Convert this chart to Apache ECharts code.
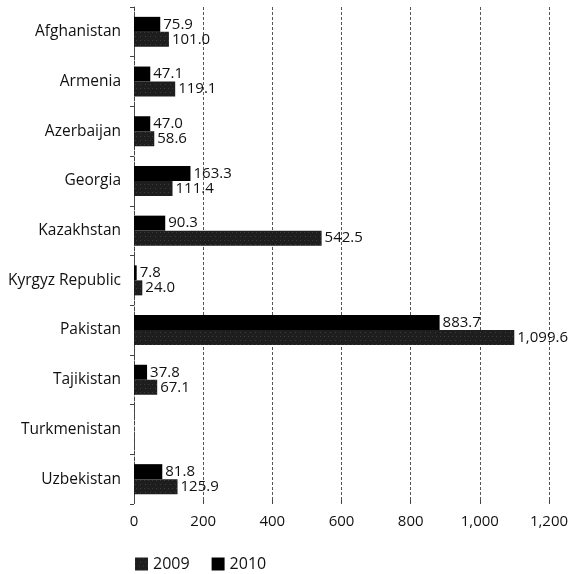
<!DOCTYPE html>
<html>
<head>
<meta charset="utf-8">
<script src="https://cdn.jsdelivr.net/npm/echarts@6/dist/echarts.min.js"></script>
<style>
  html, body { margin: 0; padding: 0; background: #fff; }
  #chart { width: 577px; height: 574px; }
</style>
</head>
<body>
<div id="chart"></div>
<script>
const countries = ['Afghanistan', 'Armenia', 'Azerbaijan', 'Georgia', 'Kazakhstan',
  'Kyrgyz Republic', 'Pakistan', 'Tajikistan', 'Turkmenistan', 'Uzbekistan'];
const values2009 = [101.0, 119.1, 58.6, 111.4, 542.5, 24.0, 1099.6, 67.1, null, 125.9];
const values2010 = [75.9, 47.1, 47.0, 163.3, 90.3, 7.8, 883.7, 37.8, null, 81.8];
const xTicks = [0, 200, 400, 600, 800, 1000, 1200];

const FONT = '"Open Sans", "Noto Sans", sans-serif';
const fmt = v => Number(v).toLocaleString('en-US', { minimumFractionDigits: 1, maximumFractionDigits: 1 });

const chart = echarts.init(document.getElementById('chart'), null, { renderer: 'canvas' });

const valueLabel = {
  show: true,
  position: 'right',
  distance: 3,
  color: '#111',
  fontFamily: FONT,
  fontSize: 15,
  formatter: p => fmt(p.value)
};

chart.setOption({
  animation: false,
  backgroundColor: '#fff',
  textStyle: { fontFamily: FONT },
  grid: { left: 134, right: 28, top: 7, bottom: 70, containLabel: false },
  legend: {
    data: ['2009', '2010'],
    left: 130,
    top: 551,
    itemWidth: 13,
    itemHeight: 13,
    itemGap: 22,
    icon: 'rect',
    textStyle: { fontFamily: FONT, fontSize: 16, color: '#111' }
  },
  xAxis: {
    type: 'value',
    min: xTicks[0],
    max: xTicks[xTicks.length - 1],
    interval: 200,
    axisLine: { show: false },
    axisTick: { show: true, length: 4, inside: true, lineStyle: { color: '#444' } },
    axisLabel: {
      color: '#111', fontFamily: FONT, fontSize: 15, margin: 10,
      formatter: v => v.toLocaleString('en-US')
    },
    splitLine: { show: true, lineStyle: { color: '#555', type: [3, 2], width: 1 } }
  },
  yAxis: {
    type: 'category',
    data: countries,
    inverse: true,
    axisLine: { show: true, lineStyle: { color: '#444', type: [4, 2], width: 1 } },
    axisTick: { show: true, length: 4, lineStyle: { color: '#444' } },
    axisLabel: { color: '#111', fontFamily: FONT, fontSize: 15.5, margin: 13 }
  },
  series: [
    {
      name: '2010',
      type: 'bar',
      data: values2010,
      barWidth: 15,
      barGap: '0%',
      itemStyle: { color: '#000' },
      label: valueLabel
    },
    {
      name: '2009',
      type: 'bar',
      data: values2009,
      barWidth: 15,
      barGap: '0%',
      itemStyle: {
        color: '#1e1e1e',
        decal: {
          symbol: 'rect',
          symbolSize: 0.6,
          color: 'rgba(255,255,255,0.45)',
          dashArrayX: [[1, 4], [1, 3]],
          dashArrayY: [1, 3],
          rotation: 0
        }
      },
      label: valueLabel
    }
  ]
});
</script>
</body>
</html>
